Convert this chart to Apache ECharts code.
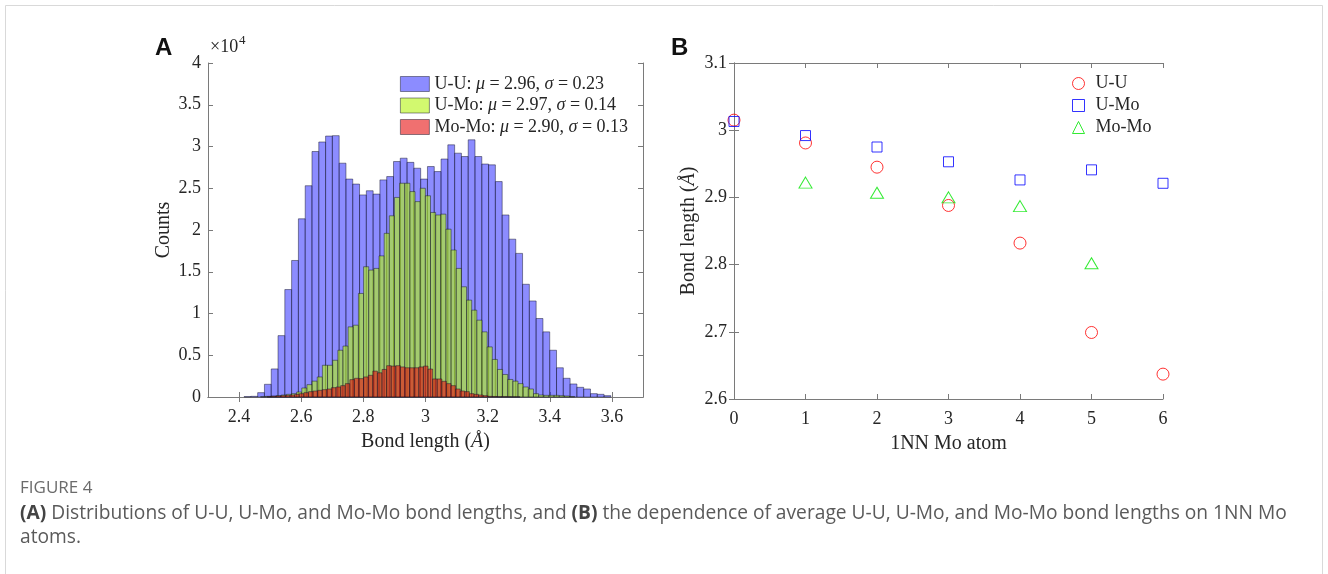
<!DOCTYPE html>
<html>
<head>
<meta charset="utf-8">
<script src="https://cdn.jsdelivr.net/npm/echarts@6/dist/echarts.min.js"></script>
<style>
html,body{margin:0;padding:0;background:#fff;}
#chart{width:1328px;height:574px;}
</style>
</head>
<body>
<div id="chart"></div>
<script>
// ---------- Panel A: histogram data (counts per bin) ----------
var uuStart = 2.4161, uuWidth = 0.02186;
var uuCounts = [50, 80, 520, 1520, 3360, 7350, 12870, 16350, 21340, 25300, 29400, 30540, 31250, 31300,
  28000, 26100, 25500, 24200, 24700, 24300, 26000, 26400, 28200, 28600, 28100, 27400, 26100, 27600,
  27000, 28500, 30200, 29200, 28800, 30800, 28800, 27900, 27800, 25800, 21800, 18900, 17200, 13500,
  11500, 9400, 7800, 5600, 3500, 2240, 1560, 1160, 960, 400, 320, 160];

var umStart = 2.4693, umWidth = 0.01657;
var umCounts = [40, 80, 120, 160, 240, 320, 400, 600, 1080, 1480, 1900, 2400, 3800, 3800, 4400, 5600,
  6100, 8400, 8600, 12400, 15600, 15200, 15400, 16900, 19600, 21700, 23900, 25600, 25600, 24600,
  23400, 25000, 24100, 22100, 21800, 21900, 20100, 17600, 15400, 13200, 11600, 10400, 9200, 7800,
  6000, 4500, 3300, 2700, 2100, 1900, 1600, 1200, 960, 400, 240, 200, 200, 200, 160, 120, 60];

var mmStart = 2.4901, mmWidth = 0.0148;
var mmCounts = [40, 80, 120, 160, 200, 240, 320, 400, 520, 640, 720, 800, 880, 960, 1120, 1200, 1360,
  1600, 2080, 2240, 2200, 2400, 2600, 3100, 2900, 3300, 3750, 3700, 3750, 3600, 3500, 3500, 3500,
  3600, 3700, 3350, 2160, 2160, 1880, 1600, 1360, 960, 720, 640, 400, 320, 240, 160, 80, 60, 40,
  40, 30, 20, 20];

var histLegend = ['U-U: μ = 2.96, σ = 0.23', 'U-Mo: μ = 2.97, σ = 0.14', 'Mo-Mo: μ = 2.90, σ = 0.13'];
var histTicksX = [2.4, 2.6, 2.8, 3.0, 3.2, 3.4, 3.6];

// ---------- Panel B: average bond length vs 1NN Mo atoms ----------
var nnMo = [0, 1, 2, 3, 4, 5, 6];
var bondUU = [3.015, 2.981, 2.945, 2.888, 2.832, 2.699, 2.637];
var bondUMo = [3.013, 2.992, 2.975, 2.953, 2.926, 2.941, 2.921];
var bondMoMo = [null, 2.922, 2.907, 2.900, 2.887, 2.802, null];
var bondTicksY = [2.6, 2.7, 2.8, 2.9, 3.0, 3.1];

// ---------- build ----------
function binData(start, width, counts) {
  return counts.map(function (c, i) { return [start + i * width, c]; });
}
function histRender(width, fill) {
  return function (params, api) {
    var x0 = api.value(0), y = api.value(1);
    var p0 = api.coord([x0, y]);
    var p1 = api.coord([x0 + width, 0]);
    return {
      type: 'rect',
      shape: { x: p0[0], y: p0[1], width: p1[0] - p0[0], height: p1[1] - p0[1] },
      style: { fill: fill, stroke: 'rgba(20,20,40,0.6)', lineWidth: 0.8 }
    };
  };
}
function pairs(xs, ys) {
  var out = [];
  for (var i = 0; i < xs.length; i++) if (ys[i] != null) out.push([xs[i], ys[i]]);
  return out;
}
function fmt1(v) { return String(Math.round(v * 10) / 10); }

var SERIF = "'Liberation Serif', 'Times New Roman', serif";
var AX = '#7a7a7a';
var TXT = '#262626';
var blueFill = 'rgba(63,63,255,0.6)';
var greenFill = 'rgba(180,245,15,0.6)';
var redFill = 'rgba(230,17,17,0.6)';

function mirrorX(grid, min, max, ticks, interval) {
  var ax = { type: 'value', gridIndex: grid, position: 'top', min: min, max: max,
    axisLine: { show: true, lineStyle: { color: AX, width: 1 } },
    axisTick: { show: true, inside: true, length: 5, lineStyle: { color: AX } },
    axisLabel: { show: false }, splitLine: { show: false } };
  if (ticks) { ax.axisTick.customValues = ticks; } else { ax.interval = interval; }
  return ax;
}
function mirrorY(grid, min, max, ticks, interval) {
  var ax = { type: 'value', gridIndex: grid, position: 'right', min: min, max: max,
    axisLine: { show: true, lineStyle: { color: AX, width: 1 } },
    axisTick: { show: true, inside: true, length: 5, lineStyle: { color: AX } },
    axisLabel: { show: false }, splitLine: { show: false } };
  if (ticks) { ax.axisTick.customValues = ticks; } else { ax.interval = interval; }
  return ax;
}

var rich = {
  n: { fontFamily: SERIF, fontSize: 18, color: TXT, lineHeight: 19 },
  i: { fontFamily: SERIF, fontSize: 18, color: TXT, fontStyle: 'italic', lineHeight: 19 }
};
function legendRich(s) {
  return s.replace(/([μσ])/g, '}{i|$1}{n|').replace(/^/, '{n|') + '}';
}

var option = {
  animation: false,
  backgroundColor: '#fff',
  grid: [
    { left: 208, top: 63, width: 435, height: 334 },
    { left: 734, top: 63, width: 429, height: 336 }
  ],
  xAxis: [
    { type: 'value', gridIndex: 0, min: 2.3, max: 3.7,
      axisLine: { show: true, onZero: false, lineStyle: { color: AX, width: 1 } },
      axisTick: { show: true, inside: true, length: 5, customValues: histTicksX, lineStyle: { color: AX } },
      axisLabel: { customValues: histTicksX, formatter: fmt1, color: TXT, fontFamily: SERIF, fontSize: 18, margin: 11 },
      splitLine: { show: false },
      name: '{n|Bond length (}{i|Å}{n|)}', nameLocation: 'middle', nameGap: 35,
      nameTextStyle: { rich: { n: { fontFamily: SERIF, fontSize: 20, color: TXT }, i: { fontFamily: SERIF, fontSize: 20, color: TXT, fontStyle: 'italic' } } } },
    mirrorX(0, 2.3, 3.7, histTicksX),
    { type: 'value', gridIndex: 1, min: 0, max: 6, interval: 1,
      axisLine: { show: true, onZero: false, lineStyle: { color: AX, width: 1 } },
      axisTick: { show: true, inside: true, length: 5, lineStyle: { color: AX } },
      axisLabel: { color: TXT, fontFamily: SERIF, fontSize: 18, margin: 11 },
      splitLine: { show: false },
      name: '1NN Mo atom', nameLocation: 'middle', nameGap: 35,
      nameTextStyle: { fontFamily: SERIF, fontSize: 20, color: TXT } },
    mirrorX(1, 0, 6, null, 1)
  ],
  yAxis: [
    { type: 'value', gridIndex: 0, min: 0, max: 40000, interval: 5000,
      axisLine: { show: true, lineStyle: { color: AX, width: 1 } },
      axisTick: { show: true, inside: true, length: 5, lineStyle: { color: AX } },
      axisLabel: { formatter: function (v) { return String(v / 10000); }, color: TXT, fontFamily: SERIF, fontSize: 18, margin: 7 },
      splitLine: { show: false },
      name: 'Counts', nameLocation: 'middle', nameGap: 34,
      nameTextStyle: { fontFamily: SERIF, fontSize: 20, color: TXT } },
    mirrorY(0, 0, 40000, null, 5000),
    { type: 'value', gridIndex: 1, min: 2.6, max: 3.1,
      axisLine: { show: true, lineStyle: { color: AX, width: 1 } },
      axisTick: { show: true, inside: true, length: 5, customValues: bondTicksY, lineStyle: { color: AX } },
      axisLabel: { customValues: bondTicksY, formatter: fmt1, color: TXT, fontFamily: SERIF, fontSize: 18, margin: 7 },
      splitLine: { show: false },
      name: '{n|Bond length (}{i|Å}{n|)}', nameLocation: 'middle', nameGap: 35,
      nameTextStyle: { rich: { n: { fontFamily: SERIF, fontSize: 20, color: TXT }, i: { fontFamily: SERIF, fontSize: 20, color: TXT, fontStyle: 'italic' } } } },
    mirrorY(1, 2.6, 3.1, bondTicksY)
  ],
  legend: [
    { orient: 'vertical', left: 400, top: 75, padding: 0, itemWidth: 29, itemHeight: 15, itemGap: 3.5,
      data: [
        { name: 'hUU', icon: 'rect', itemStyle: { color: blueFill, borderColor: 'rgba(20,20,40,0.6)', borderWidth: 0.8 } },
        { name: 'hUMo', icon: 'rect', itemStyle: { color: greenFill, borderColor: 'rgba(20,20,40,0.6)', borderWidth: 0.8 } },
        { name: 'hMoMo', icon: 'rect', itemStyle: { color: redFill, borderColor: 'rgba(20,20,40,0.6)', borderWidth: 0.8 } }
      ],
      formatter: function (name) {
        var idx = { hUU: 0, hUMo: 1, hMoMo: 2 }[name];
        return legendRich(histLegend[idx]);
      },
      textStyle: { rich: rich }, selectedMode: false },
    { orient: 'vertical', left: 1072, top: 74, padding: 0, itemWidth: 12, itemHeight: 12, itemGap: 3,
      data: [
        { name: 'U-U', icon: 'circle', itemStyle: { color: 'rgba(0,0,0,0)', borderColor: '#ff0000', borderWidth: 1 } },
        { name: 'U-Mo', icon: 'rect', itemStyle: { color: 'rgba(0,0,0,0)', borderColor: '#0000ff', borderWidth: 1 } },
        { name: 'Mo-Mo', icon: 'triangle', itemStyle: { color: 'rgba(0,0,0,0)', borderColor: '#00e600', borderWidth: 1 } }
      ],
      textStyle: { fontFamily: SERIF, fontSize: 18, color: TXT, lineHeight: 19, padding: [0, 0, 0, 6] }, selectedMode: false }
  ],
  series: [
    { name: 'hUU', type: 'custom', xAxisIndex: 0, yAxisIndex: 0, renderItem: histRender(uuWidth, blueFill),
      itemStyle: { color: blueFill }, data: binData(uuStart, uuWidth, uuCounts), encode: { x: 0, y: 1 } },
    { name: 'hUMo', type: 'custom', xAxisIndex: 0, yAxisIndex: 0, renderItem: histRender(umWidth, greenFill),
      itemStyle: { color: greenFill }, data: binData(umStart, umWidth, umCounts), encode: { x: 0, y: 1 } },
    { name: 'hMoMo', type: 'custom', xAxisIndex: 0, yAxisIndex: 0, renderItem: histRender(mmWidth, redFill),
      itemStyle: { color: redFill }, data: binData(mmStart, mmWidth, mmCounts), encode: { x: 0, y: 1 } },
    { name: 'U-U', type: 'scatter', xAxisIndex: 2, yAxisIndex: 2, symbol: 'circle', symbolSize: 12,
      itemStyle: { color: 'rgba(0,0,0,0)', borderColor: '#ff0000', borderWidth: 1 }, data: pairs(nnMo, bondUU), clip: false },
    { name: 'U-Mo', type: 'scatter', xAxisIndex: 2, yAxisIndex: 2, symbol: 'rect', symbolSize: 10,
      itemStyle: { color: 'rgba(0,0,0,0)', borderColor: '#0000ff', borderWidth: 1 }, data: pairs(nnMo, bondUMo), clip: false },
    { name: 'Mo-Mo', type: 'scatter', xAxisIndex: 2, yAxisIndex: 2, symbol: 'triangle', symbolSize: [13, 11],
      itemStyle: { color: 'rgba(0,0,0,0)', borderColor: '#00e600', borderWidth: 1 }, data: pairs(nnMo, bondMoMo), clip: false }
  ],
  graphic: [
    { type: 'rect', silent: true, shape: { x: 5.5, y: 5.5, width: 1317, height: 600 },
      style: { fill: 'none', stroke: '#d9d9d9', lineWidth: 1 } },
    { type: 'text', left: 155, top: 36, style: { text: 'A', font: "bold 24px 'Liberation Sans', Arial, sans-serif", fill: '#111' } },
    { type: 'text', left: 671, top: 36, style: { text: 'B', font: "bold 24px 'Liberation Sans', Arial, sans-serif", fill: '#111' } },
    { type: 'text', left: 210, top: 38, style: { text: '×10', font: "18px 'Liberation Serif', serif", fill: TXT } },
    { type: 'text', left: 239, top: 34, style: { text: '4', font: "13px 'Liberation Serif', serif", fill: TXT } },
    { type: 'text', left: 20, top: 480, style: { text: 'FIGURE 4', font: "17px 'Open Sans', 'Noto Sans', sans-serif", fill: '#6b6b6b' } },
    { type: 'text', left: 20, top: 504, style: {
      text: '{b|(A)}{n| Distributions of U-U, U-Mo, and Mo-Mo bond lengths, and }{b|(B)}{n| the dependence of average U-U, U-Mo, and Mo-Mo bond lengths on 1NN Mo}',
      rich: { n: { font: "19.2px 'Open Sans', 'Noto Sans', sans-serif", fill: '#5a5a5a' }, b: { font: "bold 19.2px 'Open Sans', 'Noto Sans', sans-serif", fill: '#444' } } } },
    { type: 'text', left: 20, top: 528, style: { text: 'atoms.', font: "19.2px 'Open Sans', 'Noto Sans', sans-serif", fill: '#5a5a5a' } }
  ]
};

var chart = echarts.init(document.getElementById('chart'), null, { renderer: 'canvas' });
chart.setOption(option);
</script>
</body>
</html>
